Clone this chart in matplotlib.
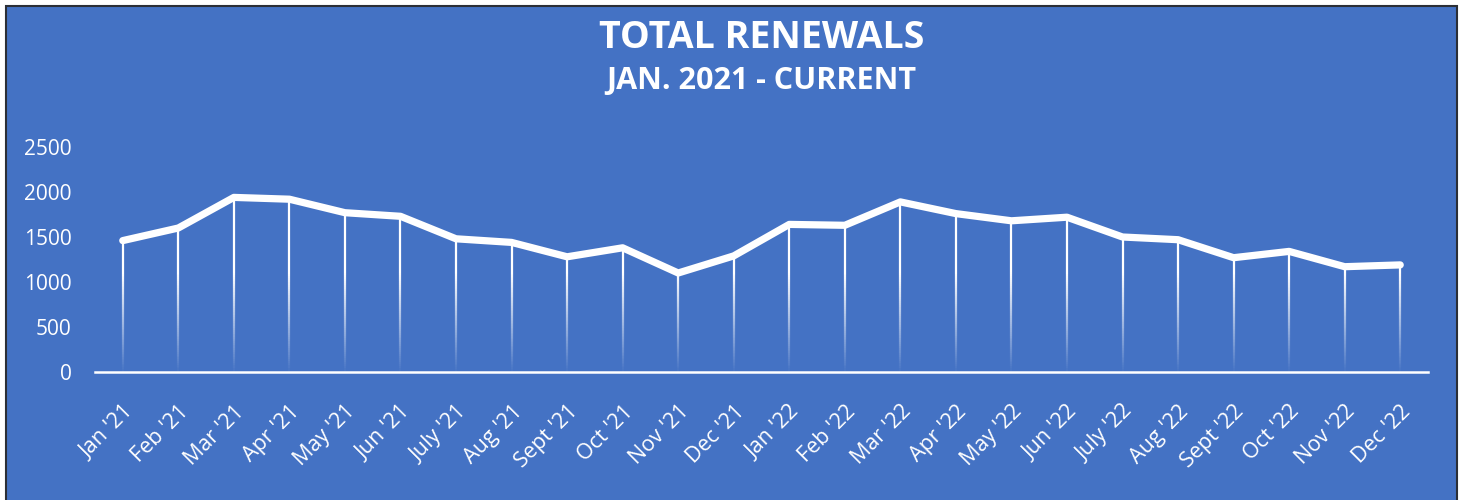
"""
Total renewals line chart (Jan 2021 - Dec 2022)
"""

import matplotlib
matplotlib.use('Agg')
import matplotlib.pyplot as plt
import numpy as np
from matplotlib.collections import LineCollection
from matplotlib.patches import Rectangle

# Dados do gráfico
meses = ["Jan '21", "Feb '21", "Mar '21", "Apr '21", "May '21", "Jun '21",
         "July '21", "Aug '21", "Sept '21", "Oct '21", "Nov '21", "Dec '21",
         "Jan '22", "Feb '22", "Mar '22", "Apr '22", "May '22", "Jun '22",
         "July '22", "Aug '22", "Sept '22", "Oct '22", "Nov '22", "Dec '22"]
renovacoes = [1460, 1600, 1940, 1920, 1770, 1730,
              1480, 1440, 1280, 1380, 1100, 1290,
              1640, 1630, 1890, 1760, 1680, 1720,
              1500, 1470, 1270, 1340, 1170, 1190]
y_ticks = [0, 500, 1000, 1500, 2000, 2500]

TITULO = 'TOTAL RENEWALS'
SUBTITULO = 'JAN. 2021 - CURRENT'

AZUL = '#4472C4'
BRANCO = '#FFFFFF'
FONTE = 'Open Sans'

plt.rcParams['font.family'] = [FONTE, 'DejaVu Sans']

fig = plt.figure(figsize=(14.64, 5.0), dpi=100, facecolor='white')

# Fundo azul com borda escura (sem borda embaixo)
fig.patches.append(Rectangle((6 / 1464, -0.02), 1451 / 1464, 494 / 500 + 0.02,
                             transform=fig.transFigure, facecolor=AZUL,
                             edgecolor='#2b2f36', linewidth=1.5, zorder=-10))

ax = fig.add_axes([95 / 1464, 128 / 500, 1333 / 1464, 225 / 500])
ax.set_facecolor('none')

x = np.arange(len(meses))

# Linhas verticais com degradê (branco -> transparente)
segmentos = []
cores = []
for xi, v in zip(x, renovacoes):
    hs = np.linspace(0, v, 80)
    for h0, h1 in zip(hs[:-1], hs[1:]):
        segmentos.append([(xi, h0), (xi, h1)])
        alpha = np.clip((h0 + h1) / 2 / 1100, 0.03, 1.0)
        cores.append((1, 1, 1, alpha))
ax.add_collection(LineCollection(segmentos, colors=cores, linewidths=1.6,
                                 capstyle='butt', zorder=2))

ax.plot(x, renovacoes, color=BRANCO, linewidth=5.2,
        solid_capstyle='round', solid_joinstyle='round', zorder=3)

ax.set_xlim(-0.5, len(meses) - 0.5)
ax.set_ylim(0, 2500)
ax.set_yticks(y_ticks)
ax.set_yticklabels([str(t) for t in y_ticks], color=BRANCO, fontsize=15)
ax.set_xticks(x)
ax.set_xticklabels(meses, rotation=45, ha='right', rotation_mode='anchor',
                   color=BRANCO, fontsize=15.5)
ax.tick_params(axis='both', length=0)
ax.tick_params(axis='y', pad=17)
ax.tick_params(axis='x', pad=21)

for lado in ['top', 'right', 'left']:
    ax.spines[lado].set_visible(False)
ax.spines['bottom'].set_color(BRANCO)
ax.spines['bottom'].set_linewidth(1.8)

centro = (95 + 1428) / 2 / 1464
fig.text(centro, 0.925, TITULO, color=BRANCO, fontsize=27, weight='bold',
         ha='center', va='center')
fig.text(centro, 0.838, SUBTITULO, color=BRANCO, fontsize=22, weight='bold',
         ha='center', va='center')

fig.savefig('out.png', dpi=100, facecolor=fig.get_facecolor())
plt.close(fig)
